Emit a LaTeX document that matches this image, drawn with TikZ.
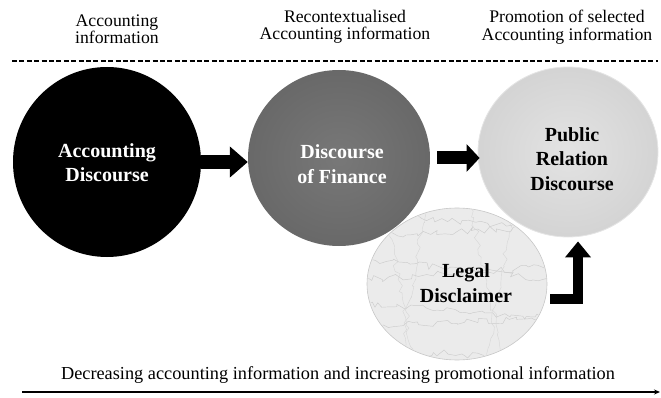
\documentclass[tikz,border=0pt]{standalone}
\usepackage{fontspec}
\setmainfont{Liberation Serif}
\usetikzlibrary{shapes.geometric,arrows.meta,calc,decorations.pathmorphing}
\begin{document}
\begin{tikzpicture}[x=1pt,y=-1pt,
  hdr/.style={font=\fontsize{17.7}{17.5}\selectfont, align=center, inner sep=0pt},
  disc/.style={ellipse, inner sep=0pt},
  disctext/.style={align=center, inner sep=0pt, font=\bfseries\fontsize{20}{24.5}\selectfont},
  blockarrow/.style={draw=black, line width=#1},
]
\useasboundingbox (0,0) rectangle (661,398);

% header texts
\node[hdr] (h1) at (117,29) {Accounting\\information};
\node[hdr] (h2) at (345,27) {Recontextualised\\Accounting information};
\node[hdr] (h3) at (567,27) {Promotion of selected\\Accounting information};

% dashed separator
\coordinate (dl) at (12,61);
\coordinate (dr) at (658,61);
\draw[line width=2.6pt, dash pattern=on 5pt off 2.4pt] (dl) -- (dr);

% circles
\node[disc, fill=black, minimum width=188, minimum height=190] (ad) at (107,162) {};
\node[disctext, text=white] (adt) at (107,162.5) {Accounting\\Discourse};

\node[disc, shading=radial, inner color=black!53, outer color=black!59,
      minimum width=182, minimum height=176] (df) at (339,158) {};
\node[disctext, text=white] (dft) at (342,164) {Discourse\\of Finance};

\node[disc, shading=radial, inner color=black!11, outer color=black!17, draw=black!10, line width=0.8pt,
      minimum width=180, minimum height=170] (pr) at (568,152) {};
\node[disctext, text=black] (prt) at (572,159) {Public\\Relation\\Discourse};

% legal disclaimer with marble-like texture
\node[disc, fill=black!8, draw=black!22, line width=0.6pt,
      minimum width=180, minimum height=152] (lg) at (457,284) {};
\begin{scope}
  \clip (457,284) ellipse [x radius=89, y radius=75];
  \pgfmathsetseed{11}
  \foreach \yy/\dd in {212/18,236/-10,258/22,280/-14,303/16,326/-8,348/12} {
    \draw[black!20, line width=0.45pt, decorate,
          decoration={random steps, segment length=5pt, amplitude=3.5pt}]
      (360,\yy) -- (555,\yy+\dd);
  }
  \foreach \xx/\dd in {385/30,425/-25,470/35,515/-30} {
    \draw[black!16, line width=0.4pt, decorate,
          decoration={random steps, segment length=5pt, amplitude=3pt}]
      (\xx,205) -- (\xx+\dd,365);
  }
\end{scope}
\node[disctext, text=black] (lgt) at (466,283) {Legal\\Disclaimer};

% arrows
\draw[blockarrow=14pt, -{Triangle[length=18pt,width=30pt]}] (ad.east) -- (ad.east -| df.west);
\draw[blockarrow=13pt, -{Triangle[length=13pt,width=27pt]}] ([xshift=7pt]df.east) -- ([xshift=2pt]df.east -| pr.west);
\coordinate (ls) at ($(lg.east)+(3,15)$);
\draw[blockarrow=10.5pt, -{Triangle[length=16pt,width=25pt]}, shorten >=4pt] (ls) -| ([xshift=10pt]pr.south);

% bottom text and line
\node[font=\fontsize{18.3}{18}\selectfont, inner sep=0pt] (bt) at (338,375) {Decreasing accounting information and increasing promotional information};
\coordinate (bl) at (22,392);
\coordinate (br) at (660,392);
\draw[line width=1.8pt, -{Stealth[length=6pt,width=5pt]}] (bl) -- (br);
\end{tikzpicture}
\end{document}
